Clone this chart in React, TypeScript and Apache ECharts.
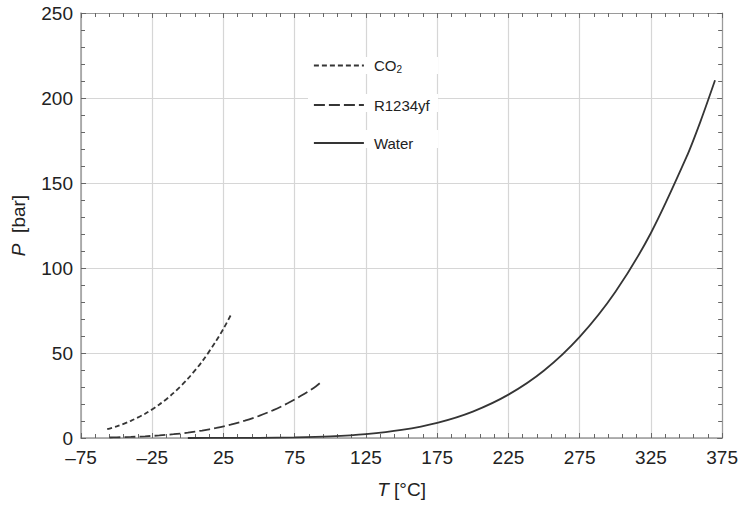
import React, { useEffect, useRef } from "react";
import * as echarts from "echarts";

// Saturation curves: temperature [°C] vs pressure [bar]
const co2T = [-56.6, -50, -40, -30, -20, -10, 0, 10, 20, 25, 30, 31];
const co2P = [5.2, 6.8, 10.1, 14.3, 19.7, 26.5, 34.9, 45.0, 57.3, 64.3, 72.1, 73.8];

const r1234yfT = [-55, -50, -40, -30, -20, -10, 0, 10, 20, 30, 40, 50, 60, 70, 80, 90, 94];
const r1234yfP = [0.29, 0.38, 0.63, 0.99, 1.51, 2.22, 3.16, 4.39, 5.92, 7.83, 10.2, 13.0, 16.4, 20.4, 25.1, 30.5, 33.3];

const waterT = [0, 25, 50, 75, 100, 125, 150, 175, 200, 225, 250, 275, 300, 325, 350, 360, 370];
const waterP = [0.006, 0.032, 0.12, 0.39, 1.01, 2.32, 4.76, 8.92, 15.55, 25.5, 39.7, 59.5, 85.9, 120.6, 165.3, 186.7, 210.4];

const seriesNames = ["CO2", "R1234yf", "Water"];

const xMin = -75;
const xMax = 375;
const xInterval = 50;
const yMin = 0;
const yMax = 250;
const yInterval = 50;

const pair = (t: number[], p: number[]) => t.map((v, i) => [v, p[i]]);

export default function App() {
  const ref = useRef<HTMLDivElement>(null);

  useEffect(() => {
    if (!ref.current) return;
    const chart = echarts.init(ref.current, undefined, { renderer: "svg" });
    const font = "'Liberation Sans', Arial, Helvetica, sans-serif";
    const axisColor = "#9a9a9a";
    const tickColor = "#666";
    const gridColor = "#d6d6d6";
    const lineColor = "#353535";

    const commonX = {
      type: "value" as const,
      min: xMin,
      max: xMax,
      interval: xInterval,
    };
    const commonY = {
      type: "value" as const,
      min: yMin,
      max: yMax,
      interval: yInterval,
    };

    chart.setOption({
      animation: false,
      backgroundColor: "#fff",
      grid: { left: 81, right: 18, top: 13, bottom: 68, containLabel: false },
      graphic: [
        { type: "rect", z: 1, shape: { x: 308, y: 57, width: 130, height: 17 }, style: { fill: "#fff" } },
        { type: "rect", z: 1, shape: { x: 308, y: 94, width: 130, height: 18 }, style: { fill: "#fff" } },
        { type: "rect", z: 1, shape: { x: 308, y: 130, width: 130, height: 18 }, style: { fill: "#fff" } },
      ],
      legend: {
        data: seriesNames,
        orient: "vertical",
        left: 308,
        top: 53,
        itemWidth: 50,
        itemHeight: 14,
        itemGap: 23,
        itemStyle: { color: "transparent", borderColor: "transparent", borderWidth: 0, opacity: 0 },
        lineStyle: { width: 1.8 },
        textStyle: {
          fontFamily: font,
          fontSize: 15,
          color: "#222",
          padding: [0, 0, 0, 5],
          rich: {
            a: { fontFamily: font, fontSize: 15, color: "#222" },
            sub: { fontFamily: font, fontSize: 10, color: "#222", verticalAlign: "bottom", padding: [8, 0, 0, 0] },
          },
        },
        formatter: (name: string) => (name === "CO2" ? "{a|CO}{sub|2}" : name),
      },
      xAxis: [
        {
          ...commonX,
          position: "bottom",
          name: "{i|T} [°C]",
          nameLocation: "middle",
          nameGap: 42,
          nameTextStyle: {
            fontFamily: font,
            fontSize: 19,
            color: "#222",
            rich: { i: { fontStyle: "italic", fontFamily: font, fontSize: 19, color: "#222" } },
          },
          axisLine: { show: true, onZero: false, lineStyle: { color: axisColor, width: 1.5 } },
          axisTick: { show: true, inside: true, length: 5, lineStyle: { color: tickColor } },
          minorTick: { show: true, splitNumber: 5, length: 4, lineStyle: { color: tickColor } },
          axisLabel: {
            fontFamily: font,
            fontSize: 19,
            color: "#222",
            margin: 10,
            formatter: (v: number) => (v < 0 ? "\u2013" + Math.abs(v) : String(v)),
          },
          splitLine: { show: true, lineStyle: { color: gridColor, width: 1.2 } },
        },
        {
          ...commonX,
          position: "top",
          axisLine: { show: true, onZero: false, lineStyle: { color: axisColor, width: 1.2 } },
          axisTick: { show: true, inside: true, length: 5, lineStyle: { color: tickColor } },
          minorTick: { show: true, splitNumber: 5, length: 4, lineStyle: { color: tickColor } },
          axisLabel: { show: false },
          splitLine: { show: false },
        },
      ],
      yAxis: [
        {
          ...commonY,
          position: "left",
          name: "{i|P}  [bar]",
          nameLocation: "middle",
          nameGap: 53,
          nameTextStyle: {
            fontFamily: font,
            fontSize: 19,
            color: "#222",
            rich: { i: { fontStyle: "italic", fontFamily: font, fontSize: 19, color: "#222" } },
          },
          axisLine: { show: true, onZero: false, lineStyle: { color: axisColor, width: 1.5 } },
          axisTick: { show: true, inside: true, length: 5, lineStyle: { color: tickColor } },
          minorTick: { show: true, splitNumber: 5, length: 4, lineStyle: { color: tickColor } },
          axisLabel: { fontFamily: font, fontSize: 19, color: "#222", margin: 8 },
          splitLine: { show: true, lineStyle: { color: gridColor, width: 1.2 } },
        },
        {
          ...commonY,
          position: "right",
          axisLine: { show: true, onZero: false, lineStyle: { color: axisColor, width: 1.2 } },
          axisTick: { show: true, inside: true, length: 5, lineStyle: { color: tickColor } },
          minorTick: { show: true, splitNumber: 5, length: 4, lineStyle: { color: tickColor } },
          axisLabel: { show: false },
          splitLine: { show: false },
        },
      ],
      series: [
        {
          name: seriesNames[0],
          type: "line",
          data: pair(co2T, co2P),
          smooth: 0.3,
          showSymbol: false,
          symbol: "none",
          itemStyle: { color: lineColor },
          lineStyle: { color: lineColor, width: 1.8, type: [5, 3] },
        },
        {
          name: seriesNames[1],
          type: "line",
          data: pair(r1234yfT, r1234yfP),
          smooth: 0.3,
          showSymbol: false,
          symbol: "none",
          itemStyle: { color: lineColor },
          lineStyle: { color: lineColor, width: 1.8, type: [11, 4] },
        },
        {
          name: seriesNames[2],
          type: "line",
          data: pair(waterT, waterP),
          smooth: 0.3,
          showSymbol: false,
          symbol: "none",
          itemStyle: { color: lineColor },
          lineStyle: { color: lineColor, width: 1.8, type: "solid" },
        },
      ],
    });
    return () => chart.dispose();
  }, []);

  return <div ref={ref} style={{ width: 741, height: 506, position: "absolute", left: 0, top: 0 }} />;
}
